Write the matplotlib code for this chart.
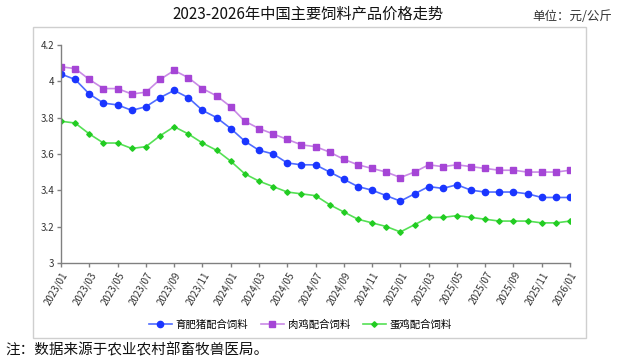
import matplotlib
matplotlib.use("Agg")
import matplotlib.pyplot as plt
from matplotlib.patches import Rectangle
import numpy as np

plt.rcParams["font.family"] = ["Noto Sans CJK SC", "DejaVu Sans"]

# ---- data ----
months = [f"{y}/{m:02d}" for y in (2023, 2024, 2025) for m in range(1, 13)] + ["2026/01"]

pig = [4.04, 4.01, 3.93, 3.88, 3.87, 3.84, 3.86, 3.91, 3.95, 3.91, 3.84, 3.80,
       3.74, 3.67, 3.62, 3.60, 3.55, 3.54, 3.54, 3.50, 3.46, 3.42, 3.40, 3.37,
       3.34, 3.38, 3.42, 3.41, 3.43, 3.40, 3.39, 3.39, 3.39, 3.38, 3.36, 3.36,
       3.36]
broiler = [4.08, 4.07, 4.01, 3.96, 3.96, 3.93, 3.94, 4.01, 4.06, 4.02, 3.96, 3.92,
           3.86, 3.78, 3.74, 3.71, 3.68, 3.65, 3.64, 3.61, 3.57, 3.54, 3.52, 3.50,
           3.47, 3.50, 3.54, 3.53, 3.54, 3.53, 3.52, 3.51, 3.51, 3.50, 3.50, 3.50,
           3.51]
layer = [3.78, 3.77, 3.71, 3.66, 3.66, 3.63, 3.64, 3.70, 3.75, 3.71, 3.66, 3.62,
         3.56, 3.49, 3.45, 3.42, 3.39, 3.38, 3.37, 3.32, 3.28, 3.24, 3.22, 3.20,
         3.17, 3.21, 3.25, 3.25, 3.26, 3.25, 3.24, 3.23, 3.23, 3.23, 3.22, 3.22,
         3.23]

series_names = ["育肥猪配合饲料", "肉鸡配合饲料", "蛋鸡配合饲料"]
y_ticks = [3, 3.2, 3.4, 3.6, 3.8, 4, 4.2]

# ---- plot ----
fig = plt.figure(figsize=(6.23, 3.63), dpi=100)
fig.patches.append(Rectangle((0.053, 0.069), 0.888, 0.857, transform=fig.transFigure,
                             fill=False, edgecolor="#cfcfcf", linewidth=1.0))

ax = fig.add_axes([0.098, 0.276, 0.817, 0.600])
x = np.arange(len(months))

ax.plot(x, pig, "-o", color="#4f6cff", mfc="#1a35ff", mec="#1a35ff",
        ms=4.5, lw=1.2, label=series_names[0])
ax.plot(x, broiler, "-s", color="#c98ae6", mfc="#a545d6", mec="#a545d6",
        ms=4.5, lw=1.2, label=series_names[1])
ax.plot(x, layer, "-D", color="#55e055", mfc="#22cc22", mec="#22cc22",
        ms=2.8, lw=1.2, label=series_names[2])

ax.set_xlim(0, len(months) - 1)
ax.set_ylim(3, 4.2)
ax.set_yticks(y_ticks)
ax.set_yticklabels([f"{v:g}" for v in y_ticks])
ax.set_xticks(x[::2])
ax.set_xticklabels(months[::2], rotation=60, ha="right", rotation_mode="anchor")

for s in ("top", "right"):
    ax.spines[s].set_visible(False)
for s in ("left", "bottom"):
    ax.spines[s].set_color("#808080")
    ax.spines[s].set_linewidth(1.0)
ax.tick_params(axis="both", colors="#808080", labelcolor="#333333",
               labelsize=7, length=3, width=1.0, pad=2)

ax.legend(loc="upper center", bbox_to_anchor=(0.47, -0.215), ncol=3, frameon=False,
          fontsize=7.5, handlelength=2.2, columnspacing=1.2, handletextpad=0.4)

fig.text(0.495, 0.962, "2023-2026年中国主要饲料产品价格走势", ha="center", va="center",
         fontsize=11, color="#111111")
fig.text(0.982, 0.955, "单位：元/公斤", ha="right", va="center",
         fontsize=9, color="#333333")
fig.text(0.008, 0.035, "注：数据来源于农业农村部畜牧兽医局。", ha="left", va="center",
         fontsize=10.5, color="#111111")

fig.savefig("out.png", dpi=100)
